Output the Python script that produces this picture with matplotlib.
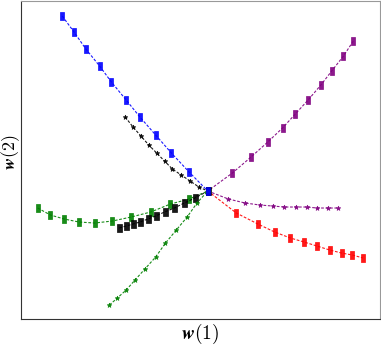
import matplotlib
matplotlib.use("Agg")
import matplotlib.pyplot as plt
import numpy as np

# trajectories, all ending at the common point (0, 0)
blue_sq_x = [-1.48, -1.36, -1.24, -1.10, -0.98, -0.83, -0.69, -0.53, -0.37, -0.19, 0.0]
blue_sq_y = [1.75, 1.59, 1.42, 1.25, 1.09, 0.91, 0.74, 0.56, 0.38, 0.19, 0.0]

purple_sq_x = [1.48, 1.38, 1.26, 1.15, 1.02, 0.89, 0.76, 0.61, 0.44, 0.25, 0.0]
purple_sq_y = [1.50, 1.35, 1.20, 1.06, 0.91, 0.77, 0.63, 0.49, 0.34, 0.18, 0.0]

black_st_x = [-0.84, -0.76, -0.68, -0.60, -0.52, -0.44, -0.36, -0.27, -0.18, -0.09, 0.0]
black_st_y = [0.74, 0.64, 0.55, 0.46, 0.38, 0.30, 0.22, 0.16, 0.10, 0.04, 0.0]

purple_st_x = [0.0, 0.21, 0.38, 0.53, 0.66, 0.78, 0.90, 1.01, 1.11, 1.22, 1.32]
purple_st_y = [0.0, -0.08, -0.12, -0.14, -0.15, -0.16, -0.16, -0.16, -0.17, -0.17, -0.17]

red_sq_x = [0.0, 0.29, 0.51, 0.68, 0.84, 0.98, 1.11, 1.24, 1.36, 1.47, 1.58]
red_sq_y = [0.0, -0.22, -0.33, -0.41, -0.47, -0.51, -0.55, -0.59, -0.62, -0.64, -0.67]

green_sq_x = [-1.73, -1.60, -1.46, -1.31, -1.15, -0.97, -0.78, -0.58, -0.38, -0.19, 0.0]
green_sq_y = [-0.17, -0.24, -0.28, -0.31, -0.32, -0.30, -0.26, -0.21, -0.13, -0.08, 0.0]

black_sq_x = [-0.90, -0.83, -0.76, -0.69, -0.61, -0.53, -0.44, -0.34, -0.24, -0.13, 0.0]
black_sq_y = [-0.37, -0.35, -0.33, -0.31, -0.28, -0.25, -0.21, -0.17, -0.12, -0.07, 0.0]

green_st_x = [-1.00, -0.92, -0.83, -0.74, -0.64, -0.53, -0.43, -0.32, -0.21, -0.11, 0.0]
green_st_y = [-1.14, -1.07, -0.99, -0.89, -0.78, -0.66, -0.52, -0.39, -0.26, -0.12, 0.0]

rect = [(-0.6, -1), (0.6, -1), (0.6, 1), (-0.6, 1), (-0.6, -1)]

plt.rcParams["mathtext.fontset"] = "cm"

figure, plot = plt.subplots(figsize=(3.81, 3.46), dpi=100)
figure.subplots_adjust(left=0.055, right=0.997, bottom=0.078, top=0.997)

# blue last so it sits on top at the shared end point
series = [
    (purple_sq_x, purple_sq_y, "purple", rect, 5.5),
    (red_sq_x, red_sq_y, "red", rect, 5.5),
    (green_sq_x, green_sq_y, "green", rect, 5.5),
    (black_sq_x, black_sq_y, "black", rect, 6),
    (black_st_x, black_st_y, "black", "*", 3.5),
    (purple_st_x, purple_st_y, "purple", "*", 3.5),
    (green_st_x, green_st_y, "green", "*", 3.5),
    (blue_sq_x, blue_sq_y, "blue", rect, 5.5),
]
for xs, ys, color, marker, size in series:
    plot.plot(xs, ys, color=color, marker=marker, ms=size, lw=0.8,
              dashes=(2.5, 1.5), alpha=0.9, markeredgewidth=0.5)

plot.set_xlim(-1.90, 1.75)
plot.set_ylim(-1.28, 1.90)
plot.set(xticks=[], yticks=[])
for side in ["left", "bottom"]:
    plot.spines[side].set_color("#333333")
for side in ["top", "right"]:
    plot.spines[side].set_color("#999999")
plot.set_xlabel(r"$\boldsymbol{w}(1)$", fontsize=14, labelpad=2)
plot.set_ylabel(r"$\boldsymbol{w}(2)$", fontsize=13, va="center")
plot.yaxis.set_label_coords(-0.029, 0.525)

figure.savefig("out.png")
